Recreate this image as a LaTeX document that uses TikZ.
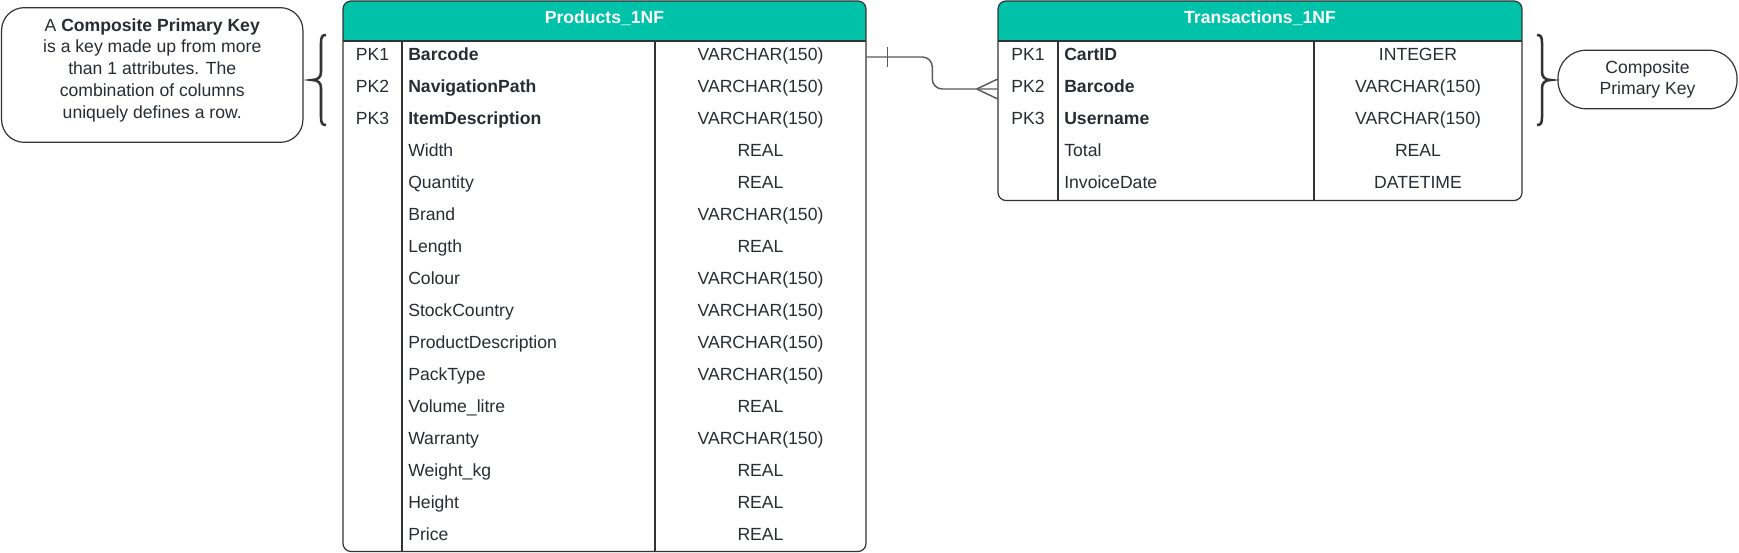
\documentclass[tikz,border=0pt]{standalone}
\usepackage{fontspec}
\setmainfont{Liberation Sans}
\definecolor{hdrteal}{RGB}{0,194,168}
\definecolor{inkgray}{RGB}{40,44,51}
\definecolor{framegray}{RGB}{51,51,51}
\definecolor{relgray}{RGB}{90,90,90}

\begin{document}
\begin{tikzpicture}[x=0.75pt,y=0.75pt,yscale=-1,xscale=1,
  font=\fontsize{13.2}{15.75}\selectfont,
  cell/.style={text=inkgray,inner xsep=0pt,inner ysep=0pt,text height=12pt,text depth=7.5pt,minimum height=24pt},
  pkcell/.style={cell,minimum width=45pt},
  namecell/.style={cell,anchor=west},
  keyname/.style={namecell,font=\fontsize{13.2}{15.75}\selectfont\bfseries},
  typecell/.style={cell,minimum width=158.25pt},
  titlecell/.style={cell,text=white,font=\fontsize{13.2}{15.75}\selectfont\bfseries},
  tableframe/.style={draw=framegray,line width=0.9pt,rounded corners=6pt},
  gridline/.style={draw=framegray,line width=0.9pt},
  relline/.style={draw=relgray,line width=1.1pt},
  bracepath/.style={draw=framegray,line width=1.9pt},
  keybox/.style={draw=framegray,line width=0.9pt,rounded corners=17pt,minimum width=226pt,minimum height=101pt,inner sep=0pt},
  pillbox/.style={draw=framegray,line width=0.9pt,rounded corners=21pt,minimum width=134.25pt,minimum height=43.9pt,inner sep=0pt,align=center,text=inkgray},
  notetext/.style={text=inkgray,align=center,inner sep=0pt,font=\fontsize{13.2}{16.3}\selectfont}
]
\useasboundingbox (0,0) rectangle (1739,553);

%Products_1NF table
\begin{scope}
\clip [rounded corners=6pt] (343,1) rectangle (866,551.5);
\fill [hdrteal] (343,1) rectangle (866,41);
\end{scope}
\draw [tableframe] (343,1) rectangle (866,551.5);
\draw [gridline] (343,41) -- (866,41);
\draw [gridline] (402,41) -- (402,551.5);
\draw [gridline] (655,41) -- (655,551.5);

%Transactions_1NF table
\begin{scope}
\clip [rounded corners=6pt] (998,1) rectangle (1522,200.5);
\fill [hdrteal] (998,1) rectangle (1522,41);
\end{scope}
\draw [tableframe] (998,1) rectangle (1522,200.5);
\draw [gridline] (998,41) -- (1522,41);
\draw [gridline] (1058,41) -- (1058,200.5);
\draw [gridline] (1314,41) -- (1314,200.5);

% Text Node
\node [titlecell] (prodtitle) at (604.5,20.5) {Products\_1NF};
\node [pkcell] (p1pk) at (372.5,57) {PK1};
\node [keyname] (p1name) at (408,57) {Barcode};
\node [typecell] (p1type) at (760.5,57) {VARCHAR(150)};
\node [pkcell] (p2pk) at (372.5,89) {PK2};
\node [keyname] (p2name) at (408,89) {NavigationPath};
\node [typecell] (p2type) at (760.5,89) {VARCHAR(150)};
\node [pkcell] (p3pk) at (372.5,121) {PK3};
\node [keyname] (p3name) at (408,121) {ItemDescription};
\node [typecell] (p3type) at (760.5,121) {VARCHAR(150)};
\node [namecell] (p4name) at (408,153) {Width};
\node [typecell] (p4type) at (760.5,153) {REAL};
\node [namecell] (p5name) at (408,185) {Quantity};
\node [typecell] (p5type) at (760.5,185) {REAL};
\node [namecell] (p6name) at (408,217) {Brand};
\node [typecell] (p6type) at (760.5,217) {VARCHAR(150)};
\node [namecell] (p7name) at (408,249) {Length};
\node [typecell] (p7type) at (760.5,249) {REAL};
\node [namecell] (p8name) at (408,281) {Colour};
\node [typecell] (p8type) at (760.5,281) {VARCHAR(150)};
\node [namecell] (p9name) at (408,313) {StockCountry};
\node [typecell] (p9type) at (760.5,313) {VARCHAR(150)};
\node [namecell] (p10name) at (408,345) {ProductDescription};
\node [typecell] (p10type) at (760.5,345) {VARCHAR(150)};
\node [namecell] (p11name) at (408,377) {PackType};
\node [typecell] (p11type) at (760.5,377) {VARCHAR(150)};
\node [namecell] (p12name) at (408,409) {Volume\_litre};
\node [typecell] (p12type) at (760.5,409) {REAL};
\node [namecell] (p13name) at (408,441) {Warranty};
\node [typecell] (p13type) at (760.5,441) {VARCHAR(150)};
\node [namecell] (p14name) at (408,473) {Weight\_kg};
\node [typecell] (p14type) at (760.5,473) {REAL};
\node [namecell] (p15name) at (408,505) {Height};
\node [typecell] (p15type) at (760.5,505) {REAL};
\node [namecell] (p16name) at (408,537) {Price};
\node [typecell] (p16type) at (760.5,537) {REAL};

% Text Node
\node [titlecell] (trantitle) at (1260,20.5) {Transactions\_1NF};
\node [pkcell] (t1pk) at (1028,57) {PK1};
\node [keyname] (t1name) at (1064,57) {CartID};
\node [typecell] (t1type) at (1418,57) {INTEGER};
\node [pkcell] (t2pk) at (1028,89) {PK2};
\node [keyname] (t2name) at (1064,89) {Barcode};
\node [typecell] (t2type) at (1418,89) {VARCHAR(150)};
\node [pkcell] (t3pk) at (1028,121) {PK3};
\node [keyname] (t3name) at (1064,121) {Username};
\node [typecell] (t3type) at (1418,121) {VARCHAR(150)};
\node [namecell] (t4name) at (1064,153) {Total};
\node [typecell] (t4type) at (1418,153) {REAL};
\node [namecell] (t5name) at (1064,185) {InvoiceDate};
\node [typecell] (t5type) at (1418,185) {DATETIME};

%Relationship: one to many
\draw [relline, rounded corners=7.5pt] (p1type.east) -- ++(66,0) |- (t2pk.west);
\draw [relline] ([xshift=15.75pt]p1type.east) ++(0,-10) -- ++(0,20);
\draw [relline] ([xshift=-15.75pt]t2pk.west) -- ++(21,-10) ([xshift=-15.75pt]t2pk.west) -- ++(21,10);

%Curly braces
\draw [bracepath] (326,35) .. controls (322,35) and (321,37) .. (321,43) -- (321,72) .. controls (321,77) and (318,80) .. (312,80) .. controls (318,80) and (321,83) .. (321,88) -- (321,117) .. controls (321,123) and (322,125) .. (326,125);
\draw [bracepath] (1537,35) .. controls (1541,35) and (1542,37) .. (1542,43) -- (1542,72) .. controls (1542,77) and (1545,80) .. (1551,80) .. controls (1545,80) and (1542,83) .. (1542,88) -- (1542,117) .. controls (1542,123) and (1541,125) .. (1537,125);

% Callouts
\node [keybox] (keynote) at (152.25,75) {};
\node [notetext] (keytext) at (152.25,70) {A \textbf{Composite Primary Key}\\is a key made up from more\\than 1 attributes. The\\combination of columns\\uniquely defines a row.};
\node [pillbox] (pkpill) at (1647.5,79.5) {Composite\\Primary Key};

\end{tikzpicture}
\end{document}
